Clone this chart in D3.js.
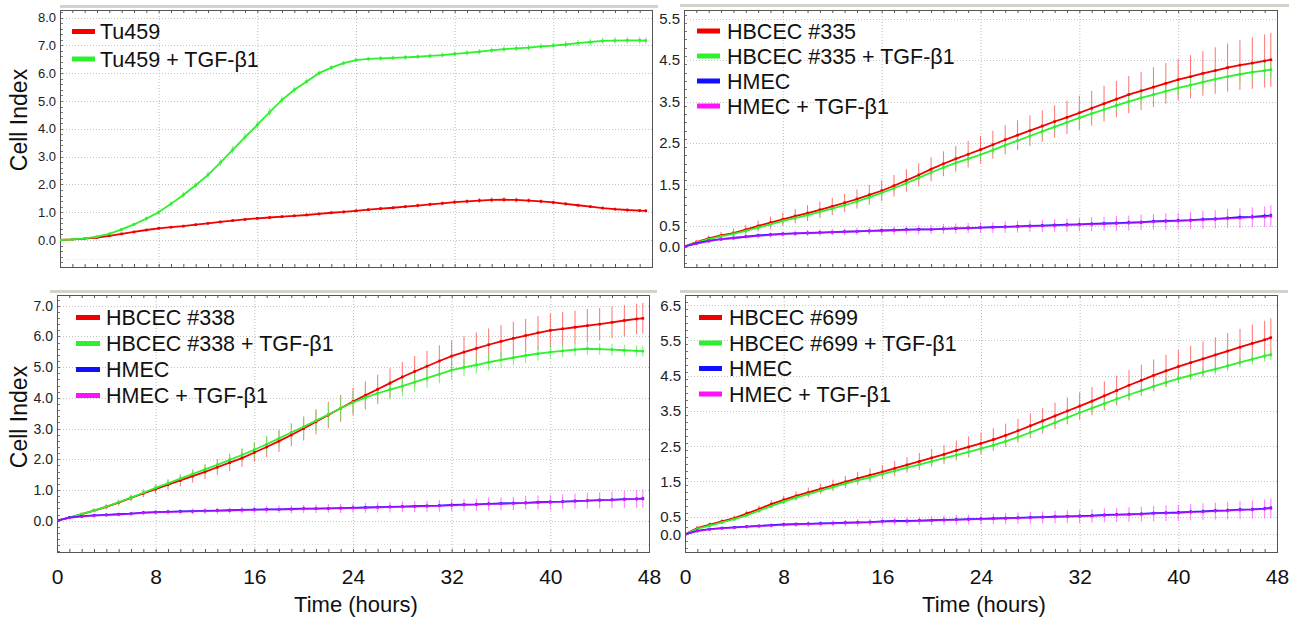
<!DOCTYPE html>
<html><head><meta charset="utf-8">
<script src="https://cdn.jsdelivr.net/npm/d3@7"></script>
<style>
body{margin:0;background:#fff}
svg{display:block}
text{font-family:"Liberation Sans",Arial,Helvetica,sans-serif}
</style>
</head><body>
<svg id="c" width="1294" height="622"></svg>
<script>
// ---------------- DATA ----------------
const hours = [0,1,2,3,4,5,6,7,8,9,10,11,12,13,14,15,16,17,18,19,20,21,22,23,24,25,26,27,28,29,30,31,32,33,34,35,36,37,38,39,40,41,42,43,44,45,46,47,47.5];
const xTicks = [0,8,16,24,32,40,48];
const yTicksTu459 = [0,1,2,3,4,5,6,7,8];
const yTicks335 = [0,0.5,1.5,2.5,3.5,4.5,5.5];
const yTicks338 = [0,1,2,3,4,5,6,7];
const yTicks699 = [0,0.5,1.5,2.5,3.5,4.5,5.5,6.5];
const xTitle = "Time (hours)";
const yTitle = "Cell Index";

// Panel A: Tu459
const tu459 = [0.00,0.02,0.05,0.09,0.15,0.22,0.29,0.36,0.42,0.46,0.50,0.55,0.60,0.65,0.70,0.74,0.78,0.81,0.84,0.87,0.90,0.94,0.98,1.01,1.05,1.09,1.13,1.16,1.20,1.24,1.28,1.32,1.36,1.39,1.42,1.44,1.45,1.44,1.42,1.39,1.35,1.30,1.25,1.20,1.15,1.11,1.08,1.06,1.05];
const tu459Err = [0.01,0.01,0.02,0.02,0.03,0.03,0.03,0.04,0.04,0.04,0.04,0.04,0.05,0.05,0.05,0.05,0.05,0.05,0.05,0.05,0.05,0.05,0.05,0.06,0.06,0.06,0.06,0.06,0.06,0.07,0.07,0.07,0.08,0.08,0.09,0.09,0.09,0.09,0.08,0.08,0.07,0.06,0.06,0.05,0.05,0.05,0.05,0.05,0.05];
const tu459Tgf = [0.00,0.02,0.06,0.12,0.22,0.38,0.56,0.77,1.00,1.30,1.62,1.97,2.34,2.78,3.24,3.70,4.14,4.60,5.04,5.40,5.70,6.00,6.20,6.36,6.47,6.51,6.53,6.55,6.57,6.59,6.62,6.65,6.69,6.73,6.77,6.82,6.86,6.89,6.92,6.96,6.99,7.03,7.08,7.12,7.16,7.17,7.18,7.18,7.17];
const tu459TgfErr = [0.01,0.02,0.02,0.03,0.04,0.05,0.06,0.07,0.08,0.09,0.10,0.11,0.12,0.13,0.14,0.15,0.15,0.14,0.13,0.12,0.10,0.09,0.08,0.08,0.08,0.08,0.08,0.08,0.09,0.09,0.09,0.09,0.10,0.10,0.10,0.10,0.11,0.11,0.11,0.11,0.11,0.12,0.12,0.12,0.12,0.12,0.12,0.12,0.12];

// Panel B: HBCEC #335
const hbcec335 = [0.00,0.11,0.20,0.27,0.33,0.41,0.50,0.58,0.66,0.74,0.81,0.89,0.97,1.06,1.15,1.25,1.35,1.47,1.60,1.73,1.87,2.00,2.12,2.23,2.34,2.46,2.58,2.69,2.80,2.91,3.02,3.12,3.23,3.34,3.45,3.56,3.67,3.76,3.85,3.94,4.03,4.10,4.18,4.25,4.32,4.38,4.43,4.48,4.51];
const hbcec335Err = [0.02,0.05,0.07,0.09,0.11,0.12,0.13,0.15,0.16,0.17,0.19,0.20,0.21,0.22,0.23,0.24,0.25,0.26,0.27,0.28,0.29,0.30,0.31,0.32,0.33,0.34,0.35,0.36,0.37,0.38,0.39,0.40,0.41,0.42,0.43,0.44,0.45,0.46,0.48,0.49,0.50,0.52,0.54,0.56,0.58,0.60,0.62,0.64,0.65];
const hbcec335Tgf = [0.00,0.10,0.18,0.25,0.31,0.38,0.46,0.54,0.62,0.69,0.76,0.84,0.92,1.00,1.09,1.19,1.30,1.41,1.53,1.66,1.79,1.91,2.02,2.12,2.22,2.33,2.45,2.56,2.67,2.78,2.89,3.00,3.11,3.21,3.31,3.41,3.50,3.59,3.67,3.75,3.83,3.90,3.97,4.04,4.10,4.16,4.21,4.25,4.27];
const hbcec335TgfErr = [0.01,0.02,0.03,0.03,0.04,0.04,0.05,0.05,0.06,0.06,0.06,0.07,0.07,0.07,0.08,0.08,0.08,0.09,0.09,0.09,0.10,0.10,0.10,0.11,0.11,0.11,0.12,0.12,0.12,0.13,0.13,0.13,0.14,0.14,0.14,0.15,0.15,0.15,0.16,0.16,0.17,0.17,0.18,0.18,0.19,0.19,0.20,0.20,0.20];
const hmec335 = [0.00,0.08,0.14,0.18,0.21,0.24,0.27,0.29,0.31,0.32,0.33,0.34,0.35,0.36,0.37,0.38,0.39,0.40,0.41,0.42,0.42,0.43,0.44,0.45,0.46,0.47,0.48,0.49,0.50,0.51,0.52,0.53,0.54,0.55,0.56,0.57,0.58,0.59,0.61,0.62,0.63,0.64,0.66,0.67,0.69,0.71,0.72,0.74,0.75];
const hmec335Err = [0.01,0.01,0.01,0.01,0.01,0.02,0.02,0.02,0.02,0.02,0.02,0.02,0.02,0.02,0.03,0.03,0.03,0.03,0.03,0.03,0.03,0.03,0.03,0.03,0.03,0.03,0.04,0.04,0.04,0.04,0.04,0.04,0.04,0.04,0.04,0.04,0.05,0.05,0.05,0.05,0.05,0.05,0.05,0.05,0.05,0.06,0.06,0.06,0.06];
const hmec335Tgf = [0.00,0.07,0.13,0.18,0.21,0.24,0.26,0.28,0.30,0.32,0.33,0.34,0.35,0.36,0.37,0.38,0.38,0.39,0.40,0.41,0.42,0.43,0.44,0.45,0.46,0.46,0.47,0.48,0.49,0.50,0.51,0.52,0.53,0.54,0.55,0.56,0.57,0.59,0.60,0.61,0.62,0.63,0.65,0.66,0.68,0.69,0.71,0.72,0.74];
const hmec335TgfErr = [0.02,0.03,0.04,0.04,0.05,0.05,0.06,0.06,0.07,0.07,0.07,0.08,0.08,0.08,0.09,0.09,0.10,0.10,0.10,0.11,0.11,0.12,0.12,0.12,0.13,0.13,0.14,0.14,0.14,0.15,0.15,0.16,0.16,0.17,0.17,0.18,0.18,0.19,0.19,0.20,0.20,0.21,0.22,0.22,0.23,0.24,0.24,0.25,0.26];

// Panel C: HBCEC #338
const hbcec338 = [0.00,0.10,0.21,0.33,0.45,0.59,0.74,0.89,1.03,1.17,1.31,1.45,1.59,1.74,1.89,2.04,2.22,2.40,2.59,2.79,3.00,3.22,3.44,3.66,3.88,4.08,4.28,4.48,4.68,4.86,5.03,5.20,5.36,5.49,5.61,5.73,5.84,5.94,6.03,6.12,6.20,6.25,6.30,6.35,6.40,6.46,6.52,6.57,6.59];
const hbcec338Err = [0.02,0.04,0.05,0.07,0.08,0.10,0.11,0.13,0.15,0.17,0.19,0.21,0.23,0.25,0.27,0.29,0.31,0.33,0.35,0.37,0.39,0.41,0.43,0.44,0.45,0.46,0.47,0.48,0.49,0.50,0.50,0.51,0.51,0.52,0.52,0.53,0.53,0.54,0.54,0.55,0.55,0.55,0.54,0.54,0.53,0.52,0.51,0.50,0.50];
const hbcec338Tgf = [0.00,0.10,0.21,0.33,0.46,0.60,0.75,0.91,1.07,1.22,1.37,1.52,1.67,1.82,1.98,2.14,2.31,2.49,2.68,2.87,3.06,3.26,3.46,3.66,3.85,4.01,4.15,4.27,4.38,4.51,4.64,4.77,4.90,4.99,5.07,5.16,5.24,5.31,5.38,5.44,5.49,5.53,5.57,5.60,5.59,5.57,5.55,5.53,5.52];
const hbcec338TgfErr = [0.02,0.03,0.04,0.05,0.06,0.07,0.08,0.09,0.10,0.12,0.13,0.15,0.17,0.19,0.21,0.23,0.25,0.27,0.29,0.31,0.33,0.34,0.35,0.35,0.35,0.34,0.34,0.33,0.33,0.32,0.31,0.30,0.30,0.29,0.28,0.27,0.26,0.25,0.24,0.23,0.22,0.21,0.20,0.20,0.19,0.19,0.18,0.18,0.18];
const hmec338 = [0.00,0.10,0.14,0.17,0.19,0.21,0.23,0.26,0.28,0.29,0.30,0.31,0.32,0.33,0.34,0.35,0.36,0.37,0.37,0.38,0.39,0.39,0.40,0.41,0.42,0.43,0.44,0.45,0.46,0.47,0.48,0.49,0.51,0.52,0.53,0.55,0.56,0.57,0.58,0.60,0.61,0.62,0.64,0.65,0.67,0.68,0.70,0.71,0.72];
const hmec338Err = [0.01,0.01,0.01,0.01,0.02,0.02,0.02,0.02,0.02,0.02,0.02,0.02,0.03,0.03,0.03,0.03,0.03,0.03,0.03,0.03,0.03,0.03,0.04,0.04,0.04,0.04,0.04,0.04,0.04,0.04,0.04,0.05,0.05,0.05,0.05,0.05,0.05,0.05,0.05,0.05,0.06,0.06,0.06,0.06,0.06,0.06,0.06,0.06,0.06];
const hmec338Tgf = [0.00,0.09,0.13,0.16,0.18,0.20,0.22,0.25,0.27,0.28,0.29,0.30,0.31,0.32,0.33,0.34,0.35,0.36,0.37,0.37,0.38,0.39,0.40,0.40,0.41,0.42,0.43,0.44,0.45,0.46,0.47,0.48,0.50,0.51,0.52,0.54,0.55,0.56,0.58,0.59,0.60,0.62,0.63,0.65,0.66,0.68,0.69,0.71,0.72];
const hmec338TgfErr = [0.02,0.03,0.04,0.05,0.05,0.06,0.06,0.07,0.07,0.08,0.08,0.09,0.09,0.10,0.10,0.11,0.11,0.12,0.12,0.13,0.13,0.14,0.14,0.15,0.15,0.16,0.16,0.17,0.17,0.18,0.18,0.19,0.19,0.20,0.20,0.21,0.21,0.22,0.22,0.23,0.24,0.24,0.25,0.26,0.26,0.27,0.28,0.29,0.30];

// Panel D: HBCEC #699
const hbcec699 = [0.00,0.18,0.28,0.37,0.46,0.59,0.72,0.86,0.98,1.09,1.19,1.29,1.39,1.49,1.59,1.68,1.77,1.87,1.97,2.07,2.17,2.27,2.38,2.48,2.58,2.69,2.81,2.94,3.08,3.22,3.36,3.50,3.64,3.78,3.93,4.08,4.23,4.37,4.51,4.64,4.76,4.87,4.98,5.09,5.20,5.31,5.42,5.52,5.58];
const hbcec699Err = [0.02,0.04,0.05,0.06,0.07,0.08,0.10,0.11,0.12,0.13,0.14,0.15,0.16,0.17,0.18,0.19,0.20,0.21,0.22,0.24,0.25,0.27,0.28,0.30,0.31,0.32,0.33,0.34,0.35,0.36,0.37,0.38,0.39,0.40,0.41,0.42,0.43,0.44,0.45,0.46,0.47,0.48,0.49,0.50,0.51,0.52,0.53,0.54,0.55];
const hbcec699Tgf = [0.00,0.16,0.25,0.34,0.43,0.54,0.67,0.80,0.93,1.04,1.14,1.24,1.34,1.44,1.53,1.62,1.71,1.80,1.89,1.98,2.07,2.16,2.25,2.34,2.43,2.53,2.64,2.76,2.89,3.03,3.17,3.31,3.45,3.58,3.71,3.84,3.96,4.08,4.20,4.31,4.42,4.51,4.60,4.69,4.78,4.88,4.97,5.06,5.10];
const hbcec699TgfErr = [0.01,0.02,0.03,0.03,0.04,0.04,0.05,0.05,0.05,0.06,0.06,0.06,0.07,0.07,0.07,0.08,0.08,0.08,0.08,0.09,0.09,0.09,0.10,0.10,0.10,0.10,0.11,0.11,0.11,0.11,0.12,0.12,0.12,0.12,0.13,0.13,0.13,0.13,0.14,0.14,0.14,0.14,0.15,0.15,0.15,0.15,0.16,0.16,0.16];
const hmec699 = [0.00,0.10,0.15,0.18,0.20,0.22,0.24,0.26,0.28,0.29,0.30,0.31,0.32,0.33,0.34,0.35,0.37,0.38,0.38,0.39,0.40,0.41,0.42,0.43,0.44,0.45,0.46,0.47,0.48,0.49,0.50,0.51,0.52,0.53,0.55,0.56,0.57,0.58,0.60,0.61,0.62,0.64,0.65,0.67,0.68,0.70,0.71,0.73,0.75];
const hmec699Err = [0.01,0.01,0.01,0.01,0.02,0.02,0.02,0.02,0.02,0.02,0.02,0.02,0.03,0.03,0.03,0.03,0.03,0.03,0.03,0.03,0.03,0.03,0.04,0.04,0.04,0.04,0.04,0.04,0.04,0.04,0.04,0.05,0.05,0.05,0.05,0.05,0.05,0.05,0.05,0.05,0.06,0.06,0.06,0.06,0.06,0.06,0.06,0.06,0.06];
const hmec699Tgf = [0.00,0.09,0.14,0.17,0.19,0.21,0.23,0.25,0.27,0.28,0.29,0.30,0.31,0.32,0.33,0.34,0.36,0.37,0.37,0.38,0.39,0.40,0.41,0.42,0.43,0.44,0.45,0.46,0.47,0.48,0.49,0.50,0.51,0.52,0.54,0.55,0.56,0.57,0.59,0.60,0.61,0.63,0.64,0.66,0.67,0.69,0.70,0.72,0.74];
const hmec699TgfErr = [0.02,0.03,0.04,0.04,0.05,0.05,0.06,0.06,0.07,0.07,0.08,0.08,0.09,0.09,0.10,0.10,0.11,0.11,0.12,0.12,0.13,0.13,0.14,0.14,0.15,0.15,0.16,0.16,0.17,0.17,0.18,0.18,0.19,0.19,0.20,0.20,0.21,0.21,0.22,0.22,0.23,0.23,0.24,0.24,0.25,0.26,0.26,0.27,0.28];

// legend labels
const legendA = ["Tu459","Tu459 + TGF-β1"];
const legendB = ["HBCEC #335","HBCEC #335 + TGF-β1","HMEC","HMEC + TGF-β1"];
const legendC = ["HBCEC #338","HBCEC #338 + TGF-β1","HMEC","HMEC + TGF-β1"];
const legendD = ["HBCEC #699","HBCEC #699 + TGF-β1","HMEC","HMEC + TGF-β1"];

// ---------------- STYLE ----------------
const COL = {red:"#f20000", green:"#2ef02e", blue:"#1010ff", magenta:"#ff10ff"};
const ERRCOL = {red:"#ff5a5a", green:"#5cf05c", blue:"#6060ff", magenta:"#ff5cff"};
const FONT = '"Liberation Sans",Arial,Helvetica,sans-serif';

const mk = (vals, errs, color, label) => ({vals, errs, color, label});

const panels = [
  {left:60, right:652, top:10, bottom:267, yDomain:[-0.97,8.27], yTicks:yTicksTu459, tickFont:13,
   header:[60,658,6.5], xLabels:false, yTitleY:120,
   legend:{x0:72, x1:95, tx:100, y0:39, dy:27.5},
   series:[mk(tu459,tu459Err,"red",legendA[0]), mk(tu459Tgf,tu459TgfErr,"green",legendA[1])]},
  {left:684, right:1277, top:10, bottom:267, yDomain:[-0.49,5.71], yTicks:yTicks335, tickFont:15,
   header:[680,1289,5.5], xLabels:false, yTitleY:null,
   legend:{x0:697, x1:720, tx:727, y0:38.5, dy:25},
   series:[mk(hbcec335,hbcec335Err,"red",legendB[0]), mk(hbcec335Tgf,hbcec335TgfErr,"green",legendB[1]),
           mk(hmec335,hmec335Err,"blue",legendB[2]), mk(hmec335Tgf,hmec335TgfErr,"magenta",legendB[3])]},
  {left:57, right:649, top:295, bottom:552, yDomain:[-1.02,7.35], yTicks:yTicks338, tickFont:14,
   header:[50,657,291.5], xLabels:true, yTitleY:417,
   legend:{x0:76, x1:100, tx:106, y0:325, dy:26},
   series:[mk(hbcec338,hbcec338Err,"red",legendC[0]), mk(hbcec338Tgf,hbcec338TgfErr,"green",legendC[1]),
           mk(hmec338,hmec338Err,"blue",legendC[2]), mk(hmec338Tgf,hmec338TgfErr,"magenta",legendC[3])]},
  {left:685, right:1277, top:295, bottom:552, yDomain:[-0.5,6.79], yTicks:yTicks699, tickFont:15,
   header:[680,1288,291.5], xLabels:true, yTitleY:null,
   legend:{x0:699, x1:722, tx:729, y0:325, dy:25.5},
   series:[mk(hbcec699,hbcec699Err,"red",legendD[0]), mk(hbcec699Tgf,hbcec699TgfErr,"green",legendD[1]),
           mk(hmec699,hmec699Err,"blue",legendD[2]), mk(hmec699Tgf,hmec699TgfErr,"magenta",legendD[3])]}
];

const svg = d3.select("#c");
svg.append("rect").attr("width",1294).attr("height",622).attr("fill","#fff");

panels.forEach((p,pi) => {
  const x = d3.scaleLinear().domain([0,48]).range([p.left,p.right]);
  const y = d3.scaleLinear().domain(p.yDomain).range([p.bottom,p.top]);
  const g = svg.append("g");

  // header double rule
  g.append("line").attr("x1",p.header[0]).attr("x2",p.header[1]).attr("y1",p.header[2]-0.5).attr("y2",p.header[2]-0.5)
    .attr("stroke","#a8a495").attr("stroke-width",1.2);
  g.append("line").attr("x1",p.header[0]).attr("x2",p.header[1]).attr("y1",p.header[2]+1).attr("y2",p.header[2]+1)
    .attr("stroke","#d6d3c8").attr("stroke-width",1.2);

  // grid
  g.selectAll(null).data(xTicks.slice(1,-1)).join("line")
    .attr("x1",d=>x(d)+0.5).attr("x2",d=>x(d)+0.5).attr("y1",p.top).attr("y2",p.bottom)
    .attr("stroke","#bdbdbd").attr("stroke-dasharray","1,2");
  g.selectAll(null).data(p.yTicks).join("line")
    .attr("x1",p.left).attr("x2",p.right).attr("y1",d=>Math.round(y(d))+0.5).attr("y2",d=>Math.round(y(d))+0.5)
    .attr("stroke","#c4c4c4").attr("stroke-dasharray","1,2");
  g.append("line").attr("x1",p.left).attr("x2",p.right)
    .attr("y1",Math.round(p.bottom-8)+0.5).attr("y2",Math.round(p.bottom-8)+0.5)
    .attr("stroke","#e2e2e2").attr("stroke-dasharray","1,2");

  // minor x ticks (every hour) top & bottom, inside
  const hourTicks = d3.range(1,48);
  g.selectAll(null).data(hourTicks).join("line")
    .attr("x1",d=>x(d)+0.5).attr("x2",d=>x(d)+0.5).attr("y1",p.top).attr("y2",p.top+3)
    .attr("stroke","#555");
  g.selectAll(null).data(hourTicks).join("line")
    .attr("x1",d=>x(d)+0.5).attr("x2",d=>x(d)+0.5).attr("y1",p.bottom).attr("y2",p.bottom-3)
    .attr("stroke","#555");
  const yMinor = d3.range(Math.ceil(p.yDomain[0]*5)/5, p.yDomain[1], 0.2);
  g.selectAll(null).data(yMinor).join("line")
    .attr("x1",p.left).attr("x2",p.left+3).attr("y1",d=>Math.round(y(d))+0.5).attr("y2",d=>Math.round(y(d))+0.5)
    .attr("stroke","#777");

  // frame
  g.append("rect").attr("x",p.left+0.5).attr("y",p.top+0.5).attr("width",p.right-p.left).attr("height",p.bottom-p.top)
    .attr("fill","none").attr("stroke","#555").attr("stroke-width",1);

  // y axis labels
  const ya = d3.axisLeft(y).tickValues(p.yTicks).tickFormat(d3.format(".1f")).tickSize(0).tickPadding(4);
  const yg = g.append("g").attr("transform",`translate(${p.left},0)`).call(ya);
  yg.select(".domain").remove();
  yg.selectAll("text").attr("font-size",p.tickFont).attr("font-family",FONT).attr("fill","#222");

  if (p.xLabels) {
    const xa = d3.axisBottom(x).tickValues(xTicks).tickFormat(d3.format("d")).tickSize(0).tickPadding(17);
    const xg = g.append("g").attr("transform",`translate(0,${p.bottom})`).call(xa);
    xg.select(".domain").remove();
    xg.selectAll("text").attr("font-size",21).attr("font-family",FONT).attr("fill","#111");
    g.append("text").attr("x",(p.left+p.right)/2+3).attr("y",612).attr("text-anchor","middle")
      .attr("font-size",22).attr("font-family",FONT).attr("fill","#111").text(xTitle);
  }
  if (p.yTitleY !== null) {
    g.append("text").attr("transform",`translate(19,${p.yTitleY}) rotate(-90)`).attr("text-anchor","middle")
      .attr("dy","0.36em").attr("font-size",23).attr("font-family",FONT).attr("fill","#111").text(yTitle);
  }

  // data
  const clipId = "clip"+pi;
  svg.append("clipPath").attr("id",clipId).append("rect")
    .attr("x",p.left).attr("y",p.top).attr("width",p.right-p.left).attr("height",p.bottom-p.top);
  const dg = g.append("g").attr("clip-path",`url(#${clipId})`);

  const errOrder = ["red","green","magenta","blue"];
  const lineOrder = ["red","green","blue","magenta"];
  errOrder.forEach(c => {
    const s = p.series.find(d=>d.color===c); if(!s) return;
    dg.selectAll(null).data(hours.map((h,i)=>({h,v:s.vals[i],e:s.errs[i]}))).join("line")
      .attr("x1",d=>x(d.h)).attr("x2",d=>x(d.h))
      .attr("y1",d=>y(d.v-d.e)).attr("y2",d=>y(d.v+d.e))
      .attr("stroke",ERRCOL[c]).attr("stroke-width",1).attr("opacity",0.85);
  });
  lineOrder.forEach(c => {
    const s = p.series.find(d=>d.color===c); if(!s) return;
    const pts = hours.map((h,i)=>({h,v:s.vals[i]}));
    const line = d3.line().x(d=>x(d.h)).y(d=>y(d.v));
    const op = c==="magenta" ? 0.55 : 1;
    dg.append("path").datum(pts).attr("d",line).attr("fill","none")
      .attr("stroke",COL[c]).attr("stroke-width",1.8).attr("opacity",op);
    dg.selectAll(null).data(pts).join("rect")
      .attr("x",d=>x(d.h)-1.3).attr("y",d=>y(d.v)-1.3).attr("width",2.6).attr("height",2.6)
      .attr("fill",COL[c]).attr("opacity",op);
  });

  // legend
  const lg = g.append("g");
  p.series.forEach((s,i) => {
    const yy = p.legend.y0 + i*p.legend.dy;
    lg.append("line").attr("x1",p.legend.x0).attr("x2",p.legend.x1).attr("y1",yy-7.5).attr("y2",yy-7.5)
      .attr("stroke",COL[s.color]).attr("stroke-width",5);
    lg.append("text").attr("x",p.legend.tx).attr("y",yy).attr("font-size",21.5).attr("font-family",FONT)
      .attr("fill","#111").text(s.label);
  });
});
</script>
</body></html>
